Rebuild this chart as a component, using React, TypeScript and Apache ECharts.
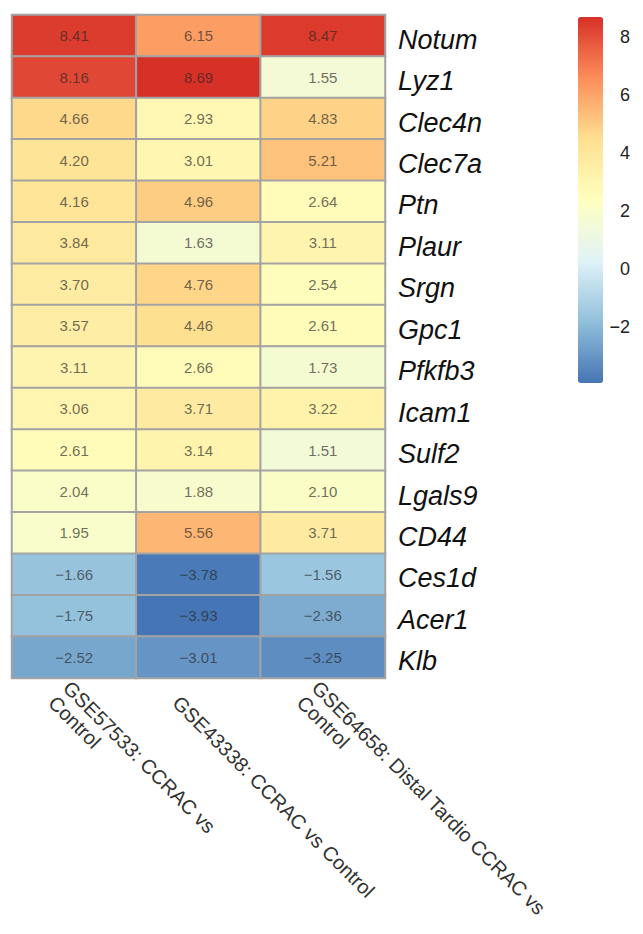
import React, { useEffect, useRef } from "react";
import * as echarts from "echarts";

const genes = [
  "Notum", "Lyz1", "Clec4n", "Clec7a", "Ptn", "Plaur", "Srgn", "Gpc1",
  "Pfkfb3", "Icam1", "Sulf2", "Lgals9", "CD44", "Ces1d", "Acer1", "Klb",
];

const comparisons = [
  "GSE57533: CCRAC vs\nControl",
  "GSE43338: CCRAC vs Control",
  "GSE64658: Distal Tardio CCRAC vs\nControl",
];

const gse57533 = [8.41, 8.16, 4.66, 4.2, 4.16, 3.84, 3.7, 3.57, 3.11, 3.06, 2.61, 2.04, 1.95, -1.66, -1.75, -2.52];
const gse43338 = [6.15, 8.69, 2.93, 3.01, 4.96, 1.63, 4.76, 4.46, 2.66, 3.71, 3.14, 1.88, 5.56, -3.78, -3.93, -3.01];
const gse64658 = [8.47, 1.55, 4.83, 5.21, 2.64, 3.11, 2.54, 2.61, 1.73, 3.22, 1.51, 2.1, 3.71, -1.56, -2.36, -3.25];

const colorTicks = [-2, 0, 2, 4, 6, 8];
const scaleMin = -3.93;
const scaleMax = 8.69;
const palette = ["#4575b4", "#91bfdb", "#e0f3f8", "#ffffbf", "#fee090", "#fc8d59", "#d73027"];

const minus = (s: string) => s.replace("-", "\u2212");

export default function App() {
  const ref = useRef<HTMLDivElement>(null);
  useEffect(() => {
    if (!ref.current) return;
    const chart = echarts.init(ref.current, undefined, { renderer: "svg" });
    const columns = [gse57533, gse43338, gse64658];
    const data: number[][] = [];
    columns.forEach((col, ci) => col.forEach((v, ri) => data.push([ci, ri, v])));
    chart.setOption({
      animation: false,
      backgroundColor: "#ffffff",
      textStyle: { fontFamily: "Liberation Sans, Arial, sans-serif" },
      grid: [
        { left: 12, top: 15, width: 373, height: 663, outerBoundsMode: "none", containLabel: false },
        { left: 578, top: 17, width: 25, height: 366, outerBoundsMode: "none", containLabel: false },
      ],
      xAxis: [
        {
          type: "category",
          data: comparisons,
          gridIndex: 0,
          axisLine: { show: false },
          axisTick: { show: false },
          splitLine: { show: false },
          axisLabel: {
            interval: 0,
            rotate: -45,
            fontSize: 20,
            color: "#333",
            margin: -1,
            lineHeight: 21,
            verticalAlign: "top",
            formatter: (v: string) => (v.indexOf("\n") < 0 ? "\n" + v : v),
          },
        },
        { type: "value", gridIndex: 1, show: false, min: 0, max: 1 },
      ],
      yAxis: [
        {
          type: "category",
          data: genes,
          inverse: true,
          position: "right",
          gridIndex: 0,
          axisLine: { show: false },
          axisTick: { show: false },
          splitLine: { show: false },
          axisLabel: {
            fontStyle: "italic",
            fontSize: 27,
            color: "#111",
            margin: 13,
            verticalAlign: "top",
            lineHeight: 8,
          },
        },
        {
          type: "value",
          gridIndex: 1,
          position: "right",
          min: scaleMin,
          max: scaleMax,
          axisLine: { show: false },
          axisTick: { show: false },
          splitLine: { show: false },
          axisLabel: {
            customValues: colorTicks,
            align: "right",
            margin: 27,
            fontSize: 18,
            color: "#222",
            formatter: (v: number) => minus(String(v)),
          },
        },
      ],
      visualMap: {
        type: "continuous",
        min: scaleMin,
        max: scaleMax,
        seriesIndex: 0,
        calculable: false,
        orient: "vertical",
        left: 578,
        top: 17,
        padding: 0,
        itemWidth: 25,
        itemHeight: 366,
        text: null,
        inRange: { color: palette },
      },
      series: [
        {
          type: "heatmap",
          xAxisIndex: 0,
          yAxisIndex: 0,
          data,
          label: {
            show: true,
            fontSize: 15,
            color: "rgba(40,40,40,0.68)",
            formatter: (p: any) => minus(p.value[2].toFixed(2)),
          },
          itemStyle: { borderColor: "#a3a3a3", borderWidth: 2 },
          emphasis: { disabled: true },
        },
      ],
    });
    return () => chart.dispose();
  }, []);
  return (
    <div
      ref={ref}
      style={{ position: "absolute", left: 0, top: 0, width: 643, height: 934 }}
    />
  );
}
